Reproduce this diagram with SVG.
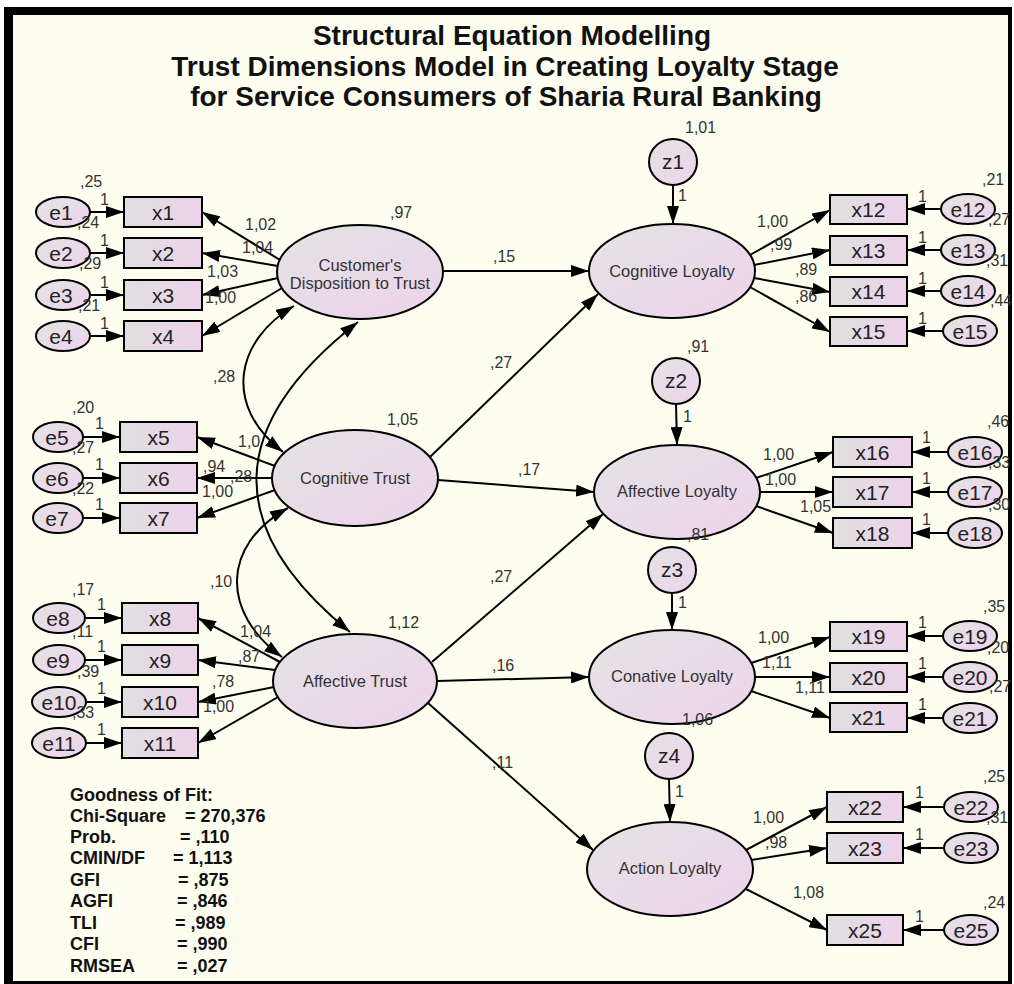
<svg xmlns="http://www.w3.org/2000/svg" width="1014" height="984" viewBox="0 0 1014 984">
<defs>
<linearGradient id="gLat" x1="0" y1="0" x2="1" y2="1">
<stop offset="0" stop-color="#E3E3E3"/>
<stop offset="1" stop-color="#EED3EC"/>
</linearGradient>
<linearGradient id="gBox" x1="0" y1="0" x2="1" y2="0">
<stop offset="0" stop-color="#E0E0E0"/>
<stop offset="1" stop-color="#EDD2EA"/>
</linearGradient>
<marker id="ah" markerUnits="userSpaceOnUse" markerWidth="18" markerHeight="12" refX="18" refY="6" orient="auto-start-reverse">
<path d="M0,0 L18,6 L0,12 z" fill="#000"/>
</marker>
<style>
.lat{fill:url(#gLat);stroke:#000;stroke-width:2}
.box{fill:url(#gBox);stroke:#000;stroke-width:2}
.err{fill:url(#gLat);stroke:#000;stroke-width:2}
.c{fill:none;stroke:#000;stroke-width:2;marker-end:url(#ah)}
.cv{fill:none;stroke:#000;stroke-width:2;marker-end:url(#ah);marker-start:url(#ah)}
.t{font-family:"Liberation Sans",Arial,sans-serif;fill:#222}
.nm{font-size:21px;text-anchor:middle}
.lt{font-size:16.5px;text-anchor:middle;fill:#333}
.n{font-size:16px;fill:#333}
.ti{font-family:"Liberation Sans",Arial,sans-serif;font-size:28px;font-weight:bold;text-anchor:middle;fill:#111}
.gf{font-family:"Liberation Sans",Arial,sans-serif;font-size:18px;font-weight:bold;fill:#111}
</style>
</defs>
<rect x="0" y="0" width="1014" height="984" fill="#fff"/>
<rect x="4" y="7" width="1008" height="977" fill="#000"/>
<rect x="13" y="15" width="995" height="966" fill="#FEFEF0"/>

<g id="title">
<text class="ti" x="512" y="45">Structural Equation Modelling</text>
<text class="ti" x="505" y="76">Trust Dimensions Model in Creating Loyalty Stage</text>
<text class="ti" x="506" y="106">for Service Consumers of Sharia Rural Banking</text>
</g>

<g id="connectors">
<path class="c" d="M90,212 L124,212"/>
<path class="c" d="M90,253 L124,253"/>
<path class="c" d="M90,295 L124,295"/>
<path class="c" d="M90,336 L124,336"/>
<path class="c" d="M83,437 L120,437"/>
<path class="c" d="M83,478 L120,478"/>
<path class="c" d="M83,518 L120,518"/>
<path class="c" d="M85,618 L122,618"/>
<path class="c" d="M85,660 L122,660"/>
<path class="c" d="M86,702 L122,702"/>
<path class="c" d="M86,743 L122,743"/>
<path class="c" d="M280,260 L202,212"/>
<path class="c" d="M278,266 L202,253"/>
<path class="c" d="M278,278 L202,295"/>
<path class="c" d="M282,288 L202,336"/>
<path class="c" d="M275,466 L197,437"/>
<path class="c" d="M272,478 L197,478"/>
<path class="c" d="M275,490 L197,518"/>
<path class="c" d="M280,662 L198,618"/>
<path class="c" d="M275,670 L198,660"/>
<path class="c" d="M274,687 L198,702"/>
<path class="c" d="M278,697 L198,743"/>
<path class="cv" d="M294,306 C236,340 222,405 283,452"/>
<path class="cv" d="M358,322 C226,425 222,528 350,632"/>
<path class="cv" d="M288,508 C221,545 221,613 282,657"/>
<path class="c" d="M443,271 L589,271"/>
<path class="c" d="M430,457 L598,294"/>
<path class="c" d="M438,480 L594,492"/>
<path class="c" d="M432,662 L603,514"/>
<path class="c" d="M437,681 L589,677"/>
<path class="c" d="M428,703 L593,850"/>
<path class="c" d="M673,185 L673,224"/>
<path class="c" d="M676,404 L677,445"/>
<path class="c" d="M672,593 L672,630"/>
<path class="c" d="M669,779 L670,822"/>
<path class="c" d="M750,255 L830,210"/>
<path class="c" d="M754,265 L830,250"/>
<path class="c" d="M754,278 L830,292"/>
<path class="c" d="M750,287 L830,332"/>
<path class="c" d="M756,478 L833,452"/>
<path class="c" d="M760,492 L833,492"/>
<path class="c" d="M756,506 L833,533"/>
<path class="c" d="M751,663 L830,637"/>
<path class="c" d="M755,677 L830,677"/>
<path class="c" d="M751,691 L830,718"/>
<path class="c" d="M746,850 L827,807"/>
<path class="c" d="M751,860 L827,848"/>
<path class="c" d="M744,888 L827,930"/>
<path class="c" d="M941,209 L907,209"/>
<path class="c" d="M941,250 L907,250"/>
<path class="c" d="M941,291 L907,291"/>
<path class="c" d="M943,331 L907,331"/>
<path class="c" d="M948,452 L912,452"/>
<path class="c" d="M948,492 L912,492"/>
<path class="c" d="M948,533 L912,533"/>
<path class="c" d="M943,636 L907,636"/>
<path class="c" d="M943,677 L907,677"/>
<path class="c" d="M943,718 L907,718"/>
<path class="c" d="M944,807 L903,807"/>
<path class="c" d="M944,848 L903,848"/>
<path class="c" d="M944,930 L903,930"/>
</g>

<g id="latents">
<g id="cdt"><ellipse class="lat" cx="360" cy="272" rx="83" ry="47"/><text class="t lt" x="360" y="271">Customer's</text><text class="t lt" x="360" y="289">Disposition to Trust</text></g>
<g id="ct"><ellipse class="lat" cx="355" cy="478" rx="83" ry="48"/><text class="t lt" x="355" y="484">Cognitive Trust</text></g>
<g id="at"><ellipse class="lat" cx="355" cy="681" rx="82" ry="47"/><text class="t lt" x="355" y="687">Affective Trust</text></g>
<g id="cl"><ellipse class="lat" cx="672" cy="271" rx="83" ry="47"/><text class="t lt" x="672" y="277">Cognitive Loyalty</text></g>
<g id="al"><ellipse class="lat" cx="677" cy="492" rx="83" ry="47"/><text class="t lt" x="677" y="497">Affective Loyalty</text></g>
<g id="conl"><ellipse class="lat" cx="672" cy="677" rx="83" ry="47"/><text class="t lt" x="672" y="682">Conative Loyalty</text></g>
<g id="actl"><ellipse class="lat" cx="670" cy="869" rx="83" ry="47"/><text class="t lt" x="670" y="874">Action Loyalty</text></g>
<g id="z1"><ellipse class="err" cx="673" cy="162" rx="24" ry="23"/><text class="t nm" x="673" y="169">z1</text></g>
<g id="z2"><ellipse class="err" cx="676" cy="381" rx="24" ry="23"/><text class="t nm" x="676" y="388">z2</text></g>
<g id="z3"><ellipse class="err" cx="672" cy="570" rx="24" ry="23"/><text class="t nm" x="672" y="577">z3</text></g>
<g id="z4"><ellipse class="err" cx="669" cy="756" rx="24" ry="23"/><text class="t nm" x="669" y="763">z4</text></g>
</g>

<g id="indicators">
<g id="x1"><rect class="box" x="124" y="197" width="78" height="30"/><text class="t nm" x="163" y="219.5">x1</text></g>
<g id="x2"><rect class="box" x="124" y="238" width="78" height="30"/><text class="t nm" x="163" y="260.5">x2</text></g>
<g id="x3"><rect class="box" x="124" y="280" width="78" height="30"/><text class="t nm" x="163" y="302.5">x3</text></g>
<g id="x4"><rect class="box" x="124" y="321" width="78" height="30"/><text class="t nm" x="163" y="343.5">x4</text></g>
<g id="x5"><rect class="box" x="120" y="422" width="77" height="30"/><text class="t nm" x="158.5" y="444.5">x5</text></g>
<g id="x6"><rect class="box" x="120" y="463" width="77" height="30"/><text class="t nm" x="158.5" y="485.5">x6</text></g>
<g id="x7"><rect class="box" x="120" y="503" width="77" height="30"/><text class="t nm" x="158.5" y="525.5">x7</text></g>
<g id="x8"><rect class="box" x="122" y="603" width="76" height="30"/><text class="t nm" x="160" y="625.5">x8</text></g>
<g id="x9"><rect class="box" x="122" y="645" width="76" height="30"/><text class="t nm" x="160" y="667.5">x9</text></g>
<g id="x10"><rect class="box" x="122" y="687" width="76" height="30"/><text class="t nm" x="160" y="709.5">x10</text></g>
<g id="x11"><rect class="box" x="122" y="728" width="76" height="30"/><text class="t nm" x="160" y="750.5">x11</text></g>
<g id="x12"><rect class="box" x="830" y="195" width="77" height="29"/><text class="t nm" x="868.5" y="217">x12</text></g>
<g id="x13"><rect class="box" x="830" y="236" width="77" height="29"/><text class="t nm" x="868.5" y="258">x13</text></g>
<g id="x14"><rect class="box" x="830" y="277" width="77" height="29"/><text class="t nm" x="868.5" y="299">x14</text></g>
<g id="x15"><rect class="box" x="830" y="317" width="77" height="29"/><text class="t nm" x="868.5" y="339">x15</text></g>
<g id="x16"><rect class="box" x="833" y="437" width="79" height="30"/><text class="t nm" x="872.5" y="459.5">x16</text></g>
<g id="x17"><rect class="box" x="833" y="477" width="79" height="30"/><text class="t nm" x="872.5" y="499.5">x17</text></g>
<g id="x18"><rect class="box" x="833" y="518" width="79" height="30"/><text class="t nm" x="872.5" y="540.5">x18</text></g>
<g id="x19"><rect class="box" x="830" y="622" width="77" height="29"/><text class="t nm" x="868.5" y="644">x19</text></g>
<g id="x20"><rect class="box" x="830" y="663" width="77" height="29"/><text class="t nm" x="868.5" y="685">x20</text></g>
<g id="x21"><rect class="box" x="830" y="703" width="77" height="29"/><text class="t nm" x="868.5" y="725">x21</text></g>
<g id="x22"><rect class="box" x="827" y="792" width="76" height="30"/><text class="t nm" x="865" y="814.5">x22</text></g>
<g id="x23"><rect class="box" x="827" y="833" width="76" height="30"/><text class="t nm" x="865" y="855.5">x23</text></g>
<g id="x25"><rect class="box" x="827" y="915" width="76" height="30"/><text class="t nm" x="865" y="937.5">x25</text></g>
</g>

<g id="errors">
<g id="e1"><ellipse class="err" cx="63" cy="212" rx="27" ry="15"/><text class="t nm" x="61" y="219.5">e1</text></g>
<g id="e2"><ellipse class="err" cx="63" cy="253" rx="27" ry="15"/><text class="t nm" x="61" y="260.5">e2</text></g>
<g id="e3"><ellipse class="err" cx="63" cy="295" rx="27" ry="15"/><text class="t nm" x="61" y="302.5">e3</text></g>
<g id="e4"><ellipse class="err" cx="63" cy="336" rx="27" ry="15"/><text class="t nm" x="61" y="343.5">e4</text></g>
<g id="e5"><ellipse class="err" cx="58" cy="437" rx="25" ry="15"/><text class="t nm" x="57" y="444.5">e5</text></g>
<g id="e6"><ellipse class="err" cx="58" cy="478" rx="25" ry="15"/><text class="t nm" x="57" y="485.5">e6</text></g>
<g id="e7"><ellipse class="err" cx="58" cy="518" rx="25" ry="15"/><text class="t nm" x="57" y="525.5">e7</text></g>
<g id="e8"><ellipse class="err" cx="59" cy="618" rx="26" ry="15"/><text class="t nm" x="58" y="625.5">e8</text></g>
<g id="e9"><ellipse class="err" cx="59" cy="660" rx="26" ry="15"/><text class="t nm" x="58" y="667.5">e9</text></g>
<g id="e10"><ellipse class="err" cx="59" cy="702" rx="27" ry="15"/><text class="t nm" x="59" y="709.5">e10</text></g>
<g id="e11"><ellipse class="err" cx="59" cy="743" rx="27" ry="15"/><text class="t nm" x="59" y="750.5">e11</text></g>
<g id="e12"><ellipse class="err" cx="968" cy="209" rx="27" ry="15"/><text class="t nm" x="968" y="216.5">e12</text></g>
<g id="e13"><ellipse class="err" cx="968" cy="250" rx="27" ry="15"/><text class="t nm" x="968" y="257.5">e13</text></g>
<g id="e14"><ellipse class="err" cx="968" cy="291" rx="27" ry="15"/><text class="t nm" x="968" y="298.5">e14</text></g>
<g id="e15"><ellipse class="err" cx="970" cy="331" rx="27" ry="15"/><text class="t nm" x="970" y="338.5">e15</text></g>
<g id="e16"><ellipse class="err" cx="975" cy="452" rx="27" ry="15"/><text class="t nm" x="975" y="459.5">e16</text></g>
<g id="e17"><ellipse class="err" cx="975" cy="492" rx="27" ry="15"/><text class="t nm" x="975" y="499.5">e17</text></g>
<g id="e18"><ellipse class="err" cx="975" cy="533" rx="27" ry="15"/><text class="t nm" x="975" y="540.5">e18</text></g>
<g id="e19"><ellipse class="err" cx="970" cy="636" rx="27" ry="15"/><text class="t nm" x="970" y="643.5">e19</text></g>
<g id="e20"><ellipse class="err" cx="970" cy="677" rx="27" ry="15"/><text class="t nm" x="970" y="684.5">e20</text></g>
<g id="e21"><ellipse class="err" cx="970" cy="718" rx="27" ry="15"/><text class="t nm" x="970" y="725.5">e21</text></g>
<g id="e22"><ellipse class="err" cx="971" cy="807" rx="27" ry="15"/><text class="t nm" x="971" y="814.5">e22</text></g>
<g id="e23"><ellipse class="err" cx="971" cy="848" rx="27" ry="15"/><text class="t nm" x="971" y="855.5">e23</text></g>
<g id="e25"><ellipse class="err" cx="971" cy="930" rx="27" ry="15"/><text class="t nm" x="971" y="937.5">e25</text></g>
</g>

<g id="labels" class="t n">
<text x="80" y="187">,25</text><text x="100" y="205">1</text>
<text x="77" y="228">,24</text><text x="100" y="246">1</text>
<text x="79" y="269">,29</text><text x="100" y="288">1</text>
<text x="78" y="311">,21</text><text x="100" y="329">1</text>
<text x="72" y="413">,20</text><text x="95" y="429">1</text>
<text x="72" y="453">,27</text><text x="95" y="470">1</text>
<text x="72" y="494">,22</text><text x="95" y="510">1</text>
<text x="72" y="595">,17</text><text x="97" y="610">1</text>
<text x="72" y="637">,11</text><text x="97" y="652">1</text>
<text x="77" y="677">,39</text><text x="97" y="694">1</text>
<text x="72" y="718">,33</text><text x="97" y="735">1</text>
<text x="245" y="230">1,02</text>
<text x="242" y="253">1,04</text>
<text x="207" y="277">1,03</text>
<text x="205" y="303">1,00</text>
<text x="238" y="447">1,0</text>
<text x="203" y="472">,94</text>
<text x="230" y="482">,28</text>
<text x="202" y="497">1,00</text>
<text x="240" y="637">1,04</text>
<text x="238" y="662">,87</text>
<text x="212" y="687">,78</text>
<text x="203" y="712">1,00</text>
<text x="213" y="382">,28</text>
<text x="210" y="587">,10</text>
<text x="390" y="218">,97</text>
<text x="387" y="425">1,05</text>
<text x="388" y="628">1,12</text>
<text x="685" y="133">1,01</text>
<text x="687" y="352">,91</text>
<text x="687" y="540">,81</text>
<text x="682" y="725">1,06</text>
<text x="678" y="201">1</text>
<text x="683" y="422">1</text>
<text x="678" y="608">1</text>
<text x="675" y="797">1</text>
<text x="493" y="262">,15</text>
<text x="490" y="368">,27</text>
<text x="518" y="475">,17</text>
<text x="490" y="582">,27</text>
<text x="492" y="671">,16</text>
<text x="492" y="768">,11</text>
<text x="757" y="227">1,00</text>
<text x="770" y="250">,99</text>
<text x="795" y="275">,89</text>
<text x="795" y="302">,86</text>
<text x="763" y="460">1,00</text>
<text x="765" y="485">1,00</text>
<text x="800" y="512">1,05</text>
<text x="758" y="643">1,00</text>
<text x="762" y="668">1,11</text>
<text x="795" y="693">1,11</text>
<text x="753" y="823">1,00</text>
<text x="765" y="848">,98</text>
<text x="793" y="898">1,08</text>
<text x="982" y="185">,21</text><text x="918" y="202">1</text>
<text x="988" y="225">,27</text><text x="918" y="243">1</text>
<text x="986" y="266">,31</text><text x="918" y="284">1</text>
<text x="990" y="306">,44</text><text x="918" y="324">1</text>
<text x="987" y="427">,46</text><text x="922" y="443">1</text>
<text x="988" y="468">,33</text><text x="922" y="484">1</text>
<text x="988" y="510">,30</text><text x="922" y="525">1</text>
<text x="983" y="612">,35</text><text x="918" y="628">1</text>
<text x="987" y="653">,20</text><text x="918" y="669">1</text>
<text x="989" y="692">,27</text><text x="918" y="710">1</text>
<text x="983" y="782">,25</text><text x="915" y="798">1</text>
<text x="986" y="823">,31</text><text x="915" y="840">1</text>
<text x="983" y="908">,24</text><text x="915" y="922">1</text>
</g>

<g id="fit" class="gf">
<text x="70" y="801">Goodness of Fit:</text>
<text x="70" y="822">Chi-Square</text><text x="185" y="822">= 270,376</text>
<text x="70" y="843">Prob.</text><text x="180" y="843">= ,110</text>
<text x="70" y="864">CMIN/DF</text><text x="173" y="864">= 1,113</text>
<text x="70" y="886">GFI</text><text x="178" y="886">= ,875</text>
<text x="70" y="907">AGFI</text><text x="177" y="907">= ,846</text>
<text x="70" y="929">TLI</text><text x="175" y="929">= ,989</text>
<text x="70" y="950">CFI</text><text x="177" y="950">= ,990</text>
<text x="70" y="972">RMSEA</text><text x="177" y="972">= ,027</text>
</g>
</svg>
